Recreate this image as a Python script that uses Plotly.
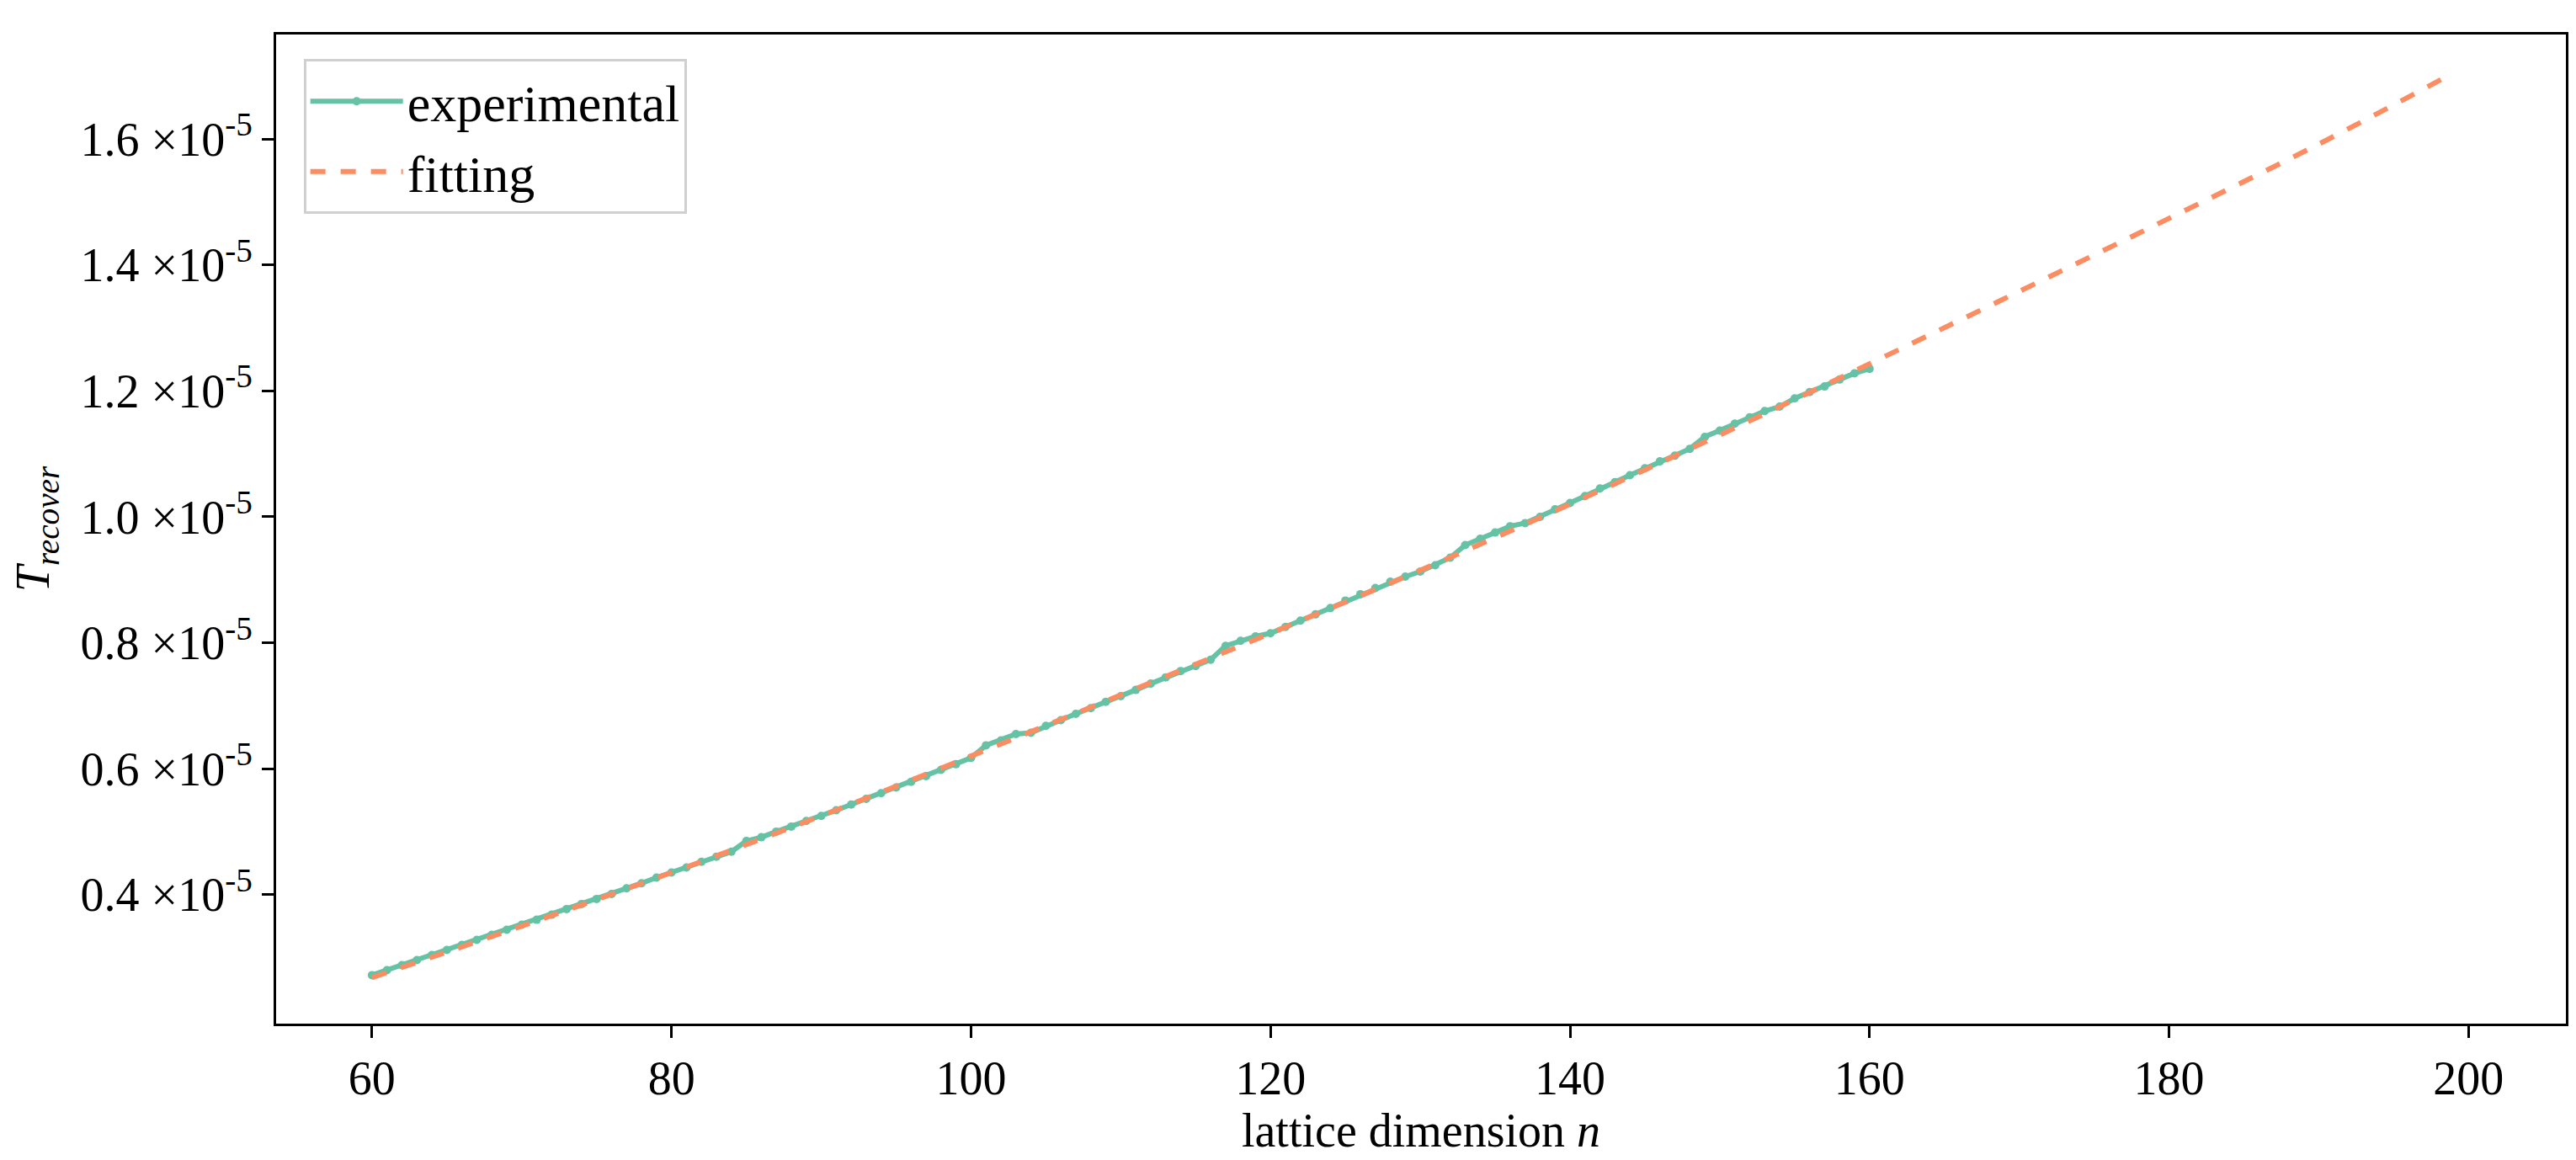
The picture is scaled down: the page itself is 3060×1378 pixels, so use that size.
import plotly.graph_objects as go

n_exp = list(range(60, 161))
t_exp = [0.272, 0.280, 0.288, 0.296, 0.304, 0.312, 0.320, 0.328, 0.336, 0.344,
         0.352, 0.360, 0.368, 0.377, 0.385, 0.393, 0.401, 0.410, 0.418, 0.427,
         0.435, 0.443, 0.452, 0.460, 0.468, 0.485, 0.491, 0.500, 0.508, 0.517,
         0.525, 0.534, 0.543, 0.552, 0.561, 0.570, 0.579, 0.588, 0.598, 0.607,
         0.617, 0.637, 0.645, 0.655, 0.657, 0.668, 0.677, 0.687, 0.696, 0.706,
         0.715, 0.725, 0.735, 0.745, 0.755, 0.763, 0.773, 0.795, 0.803, 0.810,
         0.815, 0.825, 0.835, 0.845, 0.855, 0.867, 0.877, 0.887, 0.897, 0.905,
         0.913, 0.923, 0.935, 0.955, 0.965, 0.975, 0.985, 0.990, 1.000, 1.012,
         1.022, 1.033, 1.045, 1.055, 1.066, 1.077, 1.088, 1.097, 1.108, 1.127,
         1.137, 1.148, 1.158, 1.168, 1.175, 1.188, 1.198, 1.207, 1.218, 1.228,
         1.235]
t_exp = [v * 1e-5 for v in t_exp]

n_fit = [60, 70, 80, 90, 100, 110, 120, 130, 140, 150, 160, 170, 180, 190, 199]
t_fit = [0.268, 0.350, 0.435, 0.525, 0.620, 0.717, 0.815, 0.915, 1.020, 1.130,
         1.243, 1.358, 1.474, 1.592, 1.705]
t_fit = [v * 1e-5 for v in t_fit]

x_ticks = [60, 80, 100, 120, 140, 160, 180, 200]
y_ticks = [0.4, 0.6, 0.8, 1.0, 1.2, 1.4, 1.6]
y_ticktext = [f"{v:.1f} ×10<sup>-5</sup>" for v in y_ticks]

FONT = "Liberation Serif"

fig = go.Figure()
fig.add_trace(go.Scatter(x=n_exp, y=t_exp, mode="lines+markers", name="experimental",
                         line=dict(color="#66c2a5", width=6),
                         marker=dict(color="#66c2a5", size=10)))
fig.add_trace(go.Scatter(x=n_fit, y=t_fit, mode="lines", name="fitting",
                         line=dict(color="#fc8d62", width=6, dash="dash", shape="spline")))

axis_common = dict(showline=True, linecolor="black", linewidth=3, mirror=True,
                   ticks="outside", ticklen=14, tickwidth=3, tickcolor="black",
                   showgrid=False, zeroline=False,
                   tickfont=dict(family=FONT, size=56, color="black"))

fig.update_layout(
    width=3060, height=1378,
    paper_bgcolor="white", plot_bgcolor="white",
    margin=dict(l=320, r=20, t=33, b=170),
    font=dict(family=FONT, color="black"),
    xaxis=dict(range=[53.6, 206.5], tickvals=x_ticks,
               title=dict(text="lattice dimension <i>n</i>", font=dict(family=FONT, size=56), standoff=10),
               **axis_common),
    yaxis=dict(range=[0.195e-5, 1.766e-5], tickvals=[v * 1e-5 for v in y_ticks], ticktext=y_ticktext,
               title=dict(text="<i>T</i><sub><i>recover</i></sub>", font=dict(family=FONT, size=56), standoff=20),
               **axis_common),
    legend=dict(x=0.012, y=0.975, xanchor="left", yanchor="top",
                bordercolor="#d0d0d0", borderwidth=3, bgcolor="white",
                font=dict(family=FONT, size=62, color="black"), itemwidth=110,
                tracegroupgap=10),
    showlegend=True,
)

fig.write_html("out.html")
